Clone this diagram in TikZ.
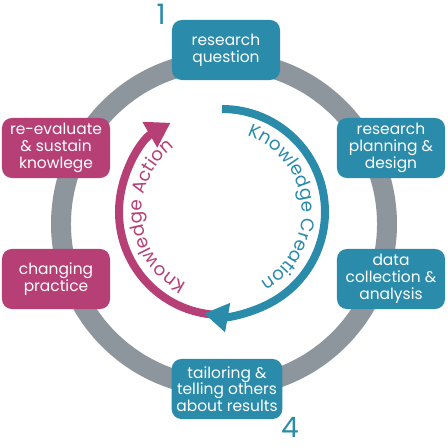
\documentclass[tikz,border=0pt]{standalone}
\usepackage{fontspec}
\setmainfont{Poppins}
\usetikzlibrary{arrows.meta}
\usetikzlibrary{decorations.text}
\definecolor{stageteal}{RGB}{42,139,170}
\definecolor{stagepink}{RGB}{182,64,118}
\definecolor{ringgray}{RGB}{141,149,157}

\begin{document}
\begin{tikzpicture}[x=0.025cm,y=0.025cm,
	stage/.style = {rounded corners=7pt, minimum width=2.7cm, minimum height=1.5cm, align=center, text=white, font=\fontsize{11}{11.9}\selectfont},
	step number/.style = {text=stageteal, font=\fontsize{20}{20}\selectfont}]
	\useasboundingbox (0,0) rectangle (448,448);
	\draw [ringgray, line width=14.2pt] (224,224) circle [radius=163];
	\begin{scope}[every node/.style={stage}]
		\node[fill=stageteal] (RQ) at (226,398) {research\\question};
		\node[fill=stageteal] (RPD) at (391,300) {research\\planning \&\\design};
		\node[fill=stageteal] (DCA) at (391,169) {data\\collection \&\\analysis};
		\node[fill=stageteal] (TT) at (227,59) {tailoring \&\\telling others\\about results};
		\node[fill=stagepink] (CP) at (56,169) {changing\\practice};
		\node[fill=stagepink] (RE) at (56,300) {re-evaluate\\\& sustain\\knowlege};
	\end{scope}
	\node[step number] (N1) at (161,434) {1};
	\node[step number] (N4) at (290,21) {4};
	\coordinate (C) at (222,236);
	\draw [stagepink, line width=5.7pt, -{Triangle[length=17pt,width=20pt]}] (C) ++(264:103) arc [start angle=264, end angle=120, radius=103];
	\draw [stageteal, line width=5.7pt, -{Triangle[length=17pt,width=20pt]}] (C) ++(90:103) arc [start angle=90, end angle=-100, radius=103];
	\path [decorate, decoration={text along path, text align=center, text={|\color{stageteal}\fontsize{13}{13}\selectfont|Knowledge Creation}}] (C) ++(73:80) arc [start angle=73, end angle=-62, radius=80];
	\path [decorate, decoration={text along path, text align=center, text={|\color{stagepink}\fontsize{13}{13}\selectfont|Knowledge Action}}] (C) ++(245:80) arc [start angle=245, end angle=125, radius=80];
\end{tikzpicture}
\end{document}
